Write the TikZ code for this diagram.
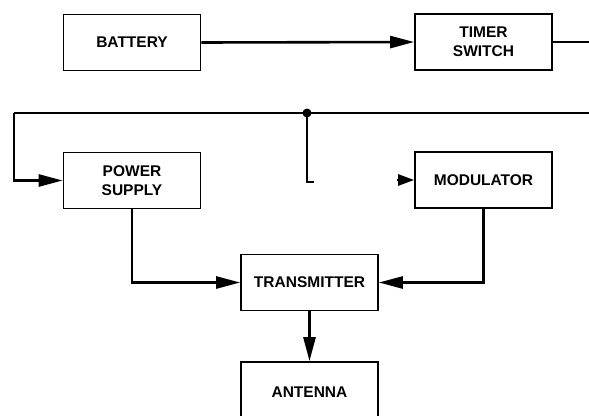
\documentclass[tikz,border=0pt]{standalone}
\usepackage{fontspec}
\setmainfont{Liberation Sans}
\usetikzlibrary{arrows.meta}
\begin{document}
\begin{tikzpicture}[x=1pt,y=-1pt,
  blk/.style={draw, line width=1.7pt, minimum width=137pt, minimum height=56pt, inner sep=0pt, align=center, font=\fontsize{15.5}{19}\selectfont\bfseries},
  wire/.style={line width=2.6pt},
  arr/.style={wire, -{Triangle[length=24pt,width=12pt]}},
  shortarr/.style={wire, -{Triangle[length=16pt,width=11pt]}}]
\useasboundingbox (0,0) rectangle (589,415);
\clip (0,0) rectangle (589,415);
\node[blk] (bat) at (132,42.5) {BATTERY};
\node[blk] (tim) at (483.5,42) {TIMER\\SWITCH};
\node[blk] (pow) at (132,180.5) {POWER\\SUPPLY};
\node[blk] (mod) at (483.5,180) {MODULATOR};
\node[blk] (tx) at (309.5,282.5) {TRANSMITTER};
\node[blk, minimum height=60pt, text depth=0pt] (ant) at (309.5,392) {ANTENNA};
\coordinate (texit) at (589,42);
\coordinate (busL) at (14,113);
\coordinate (busR) at (589,113);
\coordinate (dot) at (307,113);
\coordinate (hook) at (314,182);
\coordinate (mstub) at (397,180);
\draw[arr] (bat.east) -- (tim.west);
\draw[wire] (tim.east) -- (texit);
\draw[wire] (busL) -- (busR);
\fill (dot) circle (4.5pt);
\draw[arr] (busL) |- (pow.west);
\draw[wire] (dot) |- (hook);
\draw[shortarr] (mstub) -- (mod.west);
\draw[arr] (pow.south) |- (tx.west);
\draw[arr] (mod.south) |- (tx.east);
\draw[arr] (tx.south) -- (ant.north);
\end{tikzpicture}
\end{document}
